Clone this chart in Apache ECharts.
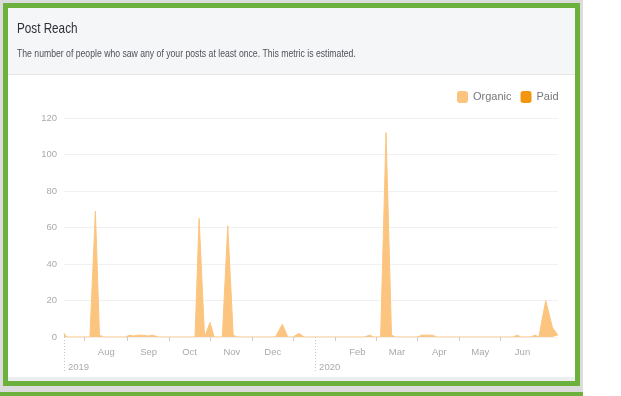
<!DOCTYPE html>
<html>
<head>
<meta charset="utf-8">
<script src="https://cdn.jsdelivr.net/npm/echarts@6/dist/echarts.min.js"></script>
<style>
  html, body { margin: 0; padding: 0; background: #ffffff; }
  body { width: 621px; height: 396px; position: relative; overflow: hidden; }
  .backdrop { position: absolute; left: 0; top: 0; width: 583px; height: 392px; background: #dcdcdc; }
  .card { position: absolute; left: 3px; top: 3px; width: 567px; height: 373px; border: 5px solid #6cb03e; background: #ffffff; }
  .card-head { position: absolute; left: 0; top: 0; right: 0; height: 66px; background: #f5f6f8; border-bottom: 1px solid #e3e4e6; }
  .card-foot { position: absolute; left: 0; bottom: 0; right: 0; height: 4px; background: #eceef0; }
  .next-card { position: absolute; left: 0; top: 392px; width: 583px; height: 4px; background: #6cb03e; }
  #chart { position: absolute; left: 0; top: 0; width: 621px; height: 396px; }
</style>
</head>
<body>
<div class="backdrop"></div>
<div class="card"><div class="card-head"></div><div class="card-foot"></div></div>
<div class="next-card"></div>
<div id="chart"></div>
<script>
// Post reach, daily points where reach changes (value 0 elsewhere)
const reachDates = [
  '2019-07-01', '2019-07-03',
  '2019-07-20', '2019-07-24', '2019-07-27', '2019-07-30',
  '2019-08-15', '2019-08-18', '2019-08-21', '2019-08-24', '2019-08-28', '2019-09-01', '2019-09-04', '2019-09-08',
  '2019-10-05', '2019-10-08', '2019-10-12', '2019-10-16', '2019-10-19',
  '2019-10-25', '2019-10-29', '2019-11-02', '2019-11-05',
  '2019-12-03', '2019-12-08', '2019-12-12',
  '2019-12-16', '2019-12-20', '2019-12-24',
  '2020-02-06', '2020-02-10', '2020-02-13',
  '2020-02-18', '2020-02-22', '2020-02-26', '2020-02-29',
  '2020-03-16', '2020-03-19', '2020-03-23', '2020-03-27', '2020-03-30',
  '2020-05-25', '2020-05-28', '2020-05-31',
  '2020-06-07', '2020-06-10', '2020-06-13',
  '2020-06-14', '2020-06-18', '2020-06-23', '2020-06-27'
];
const organicValues = [
  2, 0,
  0, 69, 1, 0,
  0, 1, 0.5, 1, 1, 0.5, 1, 0,
  0, 65, 0, 8, 0,
  0, 61, 1, 0,
  0, 7, 0,
  0, 2, 0,
  0, 1, 0,
  0, 112, 1, 0,
  0, 1, 1, 1, 0,
  0, 1, 0,
  0, 1, 0,
  0, 20, 5, 1
];
const paidValues = reachDates.map(() => 0);

const seriesNames = ['Organic', 'Paid'];
const monthLabelDates = ['2019-08-01', '2019-09-01', '2019-10-01', '2019-11-01', '2019-12-01',
                         '2020-02-01', '2020-03-01', '2020-04-01', '2020-05-01', '2020-06-01'];
const monthTickDates = ['2019-07-16', '2019-08-16', '2019-09-16', '2019-10-16', '2019-11-16', '2019-12-16',
                        '2020-01-16', '2020-02-15', '2020-03-16', '2020-04-16', '2020-05-16'];
const yearDates = ['2019-07-01', '2020-01-01'];
const monthNames = ['Jan', 'Feb', 'Mar', 'Apr', 'May', 'Jun', 'Jul', 'Aug', 'Sep', 'Oct', 'Nov', 'Dec'];
const rangeStart = '2019-07-01';
const rangeEnd = '2020-06-27';

const headingText = 'Post Reach';
const descriptionText = 'The number of people who saw any of your posts at least once. This metric is estimated.';

// dates are placed on a numeric day axis (days since the range start)
const DAY = 86400000;
const utc = s => Date.UTC(+s.slice(0, 4), +s.slice(5, 7) - 1, +s.slice(8, 10));
const dayOf = s => Math.round((utc(s) - utc(rangeStart)) / DAY);
const dateOfDay = d => new Date(utc(rangeStart) + d * DAY);

const organicColor = '#fcc57f';
const paidColor = '#f2960f';
const labelColor = '#aaaaaa';
const fontFamily = '"Liberation Sans", Arial, sans-serif';

const chart = echarts.init(document.getElementById('chart'), null, { renderer: 'canvas' });

chart.setOption({
  animation: false,
  backgroundColor: 'transparent',
  // card heading, set in a narrow Helvetica-like face
  graphic: [
    {
      type: 'text', x: 17, y: 21, scaleX: 0.78,
      style: { text: headingText, font: '15px ' + fontFamily, fill: '#2d3035', textVerticalAlign: 'top' }
    },
    {
      type: 'text', x: 17, y: 49.5, scaleX: 0.85,
      style: { text: descriptionText, font: '10.2px ' + fontFamily, fill: '#4f5258', textVerticalAlign: 'top' }
    }
  ],
  legend: {
    data: seriesNames,
    left: 457, top: 91, padding: 0,
    icon: 'roundRect',
    itemWidth: 11, itemHeight: 12, itemGap: 9,
    textStyle: { fontFamily, fontSize: 11, color: '#777777' }
  },
  grid: { left: 64, top: 118, width: 494, height: 219, containLabel: false },
  xAxis: [
    {
      type: 'value',
      min: 0, max: dayOf(rangeEnd),
      axisLine: { show: false },
      splitLine: { show: false },
      axisTick: {
        show: true, length: 4,
        customValues: monthTickDates.map(dayOf),
        lineStyle: { color: '#cccccc' }
      },
      axisLabel: {
        show: true,
        customValues: monthLabelDates.map(dayOf),
        margin: 10,
        fontFamily, fontSize: 9.5, color: labelColor,
        formatter: v => monthNames[dateOfDay(v).getUTCMonth()]
      }
    },
    {
      type: 'value',
      position: 'bottom',
      min: 0, max: dayOf(rangeEnd),
      axisLine: { show: false },
      splitLine: { show: false },
      axisTick: {
        show: true, length: 35,
        customValues: yearDates.map(dayOf),
        lineStyle: { color: '#c8c8c8', type: [1, 2] }
      },
      axisLabel: {
        show: true,
        customValues: yearDates.map(dayOf),
        showMinLabel: true,
        margin: 25,
        align: 'left',
        padding: [0, 0, 0, 4],
        fontFamily, fontSize: 9.5, color: labelColor,
        formatter: v => String(dateOfDay(v).getUTCFullYear())
      }
    }
  ],
  yAxis: {
    type: 'value',
    min: 0, max: 120, interval: 20,
    axisLine: { show: false },
    axisTick: { show: false },
    axisLabel: { margin: 7, fontFamily, fontSize: 9.5, color: labelColor },
    splitLine: { lineStyle: { color: '#f0f0f0', width: 1 } }
  },
  series: [
    {
      name: 'Organic',
      type: 'line',
      xAxisIndex: 0,
      symbol: 'none',
      color: organicColor,
      lineStyle: { color: organicColor, width: 1 },
      areaStyle: { color: organicColor, opacity: 1 },
      data: reachDates.map((d, i) => [dayOf(d), organicValues[i]])
    },
    {
      name: 'Paid',
      type: 'line',
      xAxisIndex: 0,
      symbol: 'none',
      color: paidColor,
      lineStyle: { color: paidColor, width: 0 },
      areaStyle: { color: paidColor, opacity: 1 },
      data: reachDates.map((d, i) => [dayOf(d), paidValues[i]])
    }
  ]
});
</script>
</body>
</html>
